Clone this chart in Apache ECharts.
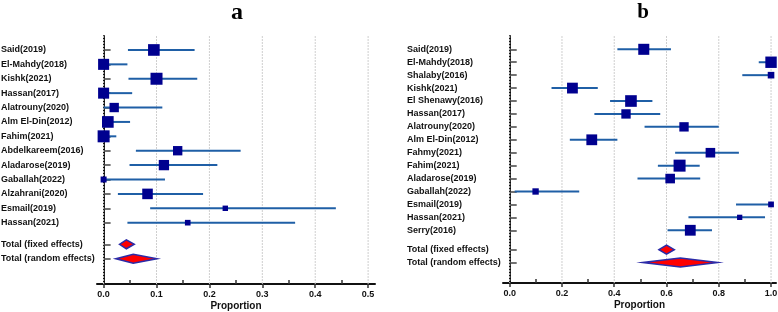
<!DOCTYPE html>
<html>
<head>
<meta charset="utf-8">
<script src="https://cdn.jsdelivr.net/npm/echarts@6/dist/echarts.min.js"></script>
<style>
html, body { margin: 0; padding: 0; background: #fff; }
#chart { width: 778px; height: 312px; }
</style>
</head>
<body>
<div id="chart"></div>
<script>
// panel a
var studiesA = ['Said(2019)', 'El-Mahdy(2018)', 'Kishk(2021)', 'Hassan(2017)', 'Alatrouny(2020)', 'Alm El-Din(2012)',
    'Fahim(2021)', 'Abdelkareem(2016)', 'Aladarose(2019)', 'Gaballah(2022)', 'Alzahrani(2020)', 'Esmail(2019)', 'Hassan(2021)'];
var estA  = [0.095, 0.000, 0.100, 0.000, 0.020, 0.008, 0.000, 0.140, 0.114, 0.000, 0.083, 0.230, 0.159];
var lowA  = [0.046, 0.000, 0.047, 0.000, 0.000, 0.000, 0.000, 0.061, 0.049, 0.000, 0.027, 0.088, 0.045];
var highA = [0.172, 0.045, 0.177, 0.054, 0.111, 0.050, 0.024, 0.259, 0.215, 0.116, 0.188, 0.439, 0.362];
var weightA = [0.97, 0.92, 1.0, 0.92, 0.78, 0.97, 1.0, 0.78, 0.86, 0.5, 0.88, 0.45, 0.47];
var totalNames = ['Total (fixed effects)', 'Total (random effects)'];
var totEstA  = [0.043, 0.056];
var totLowA  = [0.030, 0.023];
var totHighA = [0.058, 0.101];
var ticksA = [0, 0.1, 0.2, 0.3, 0.4, 0.5];
var minorA = [0.05, 0.15, 0.25, 0.35, 0.45];

// panel b
var studiesB = ['Said(2019)', 'El-Mahdy(2018)', 'Shalaby(2016)', 'Kishk(2021)', 'El Shenawy(2016)', 'Hassan(2017)',
    'Alatrouny(2020)', 'Alm El-Din(2012)', 'Fahmy(2021)', 'Fahim(2021)', 'Aladarose(2019)', 'Gaballah(2022)',
    'Esmail(2019)', 'Hassan(2021)', 'Serry(2016)'];
var estB  = [0.513, 1.000, 1.000, 0.240, 0.464, 0.445, 0.667, 0.314, 0.768, 0.650, 0.614, 0.099, 1.000, 0.880, 0.691];
var lowB  = [0.412, 0.953, 0.890, 0.160, 0.384, 0.324, 0.516, 0.230, 0.633, 0.567, 0.489, 0.019, 0.866, 0.684, 0.604];
var highB = [0.617, 1.000, 1.000, 0.337, 0.546, 0.576, 0.800, 0.412, 0.877, 0.727, 0.729, 0.266, 1.000, 0.977, 0.774];
var weightB = [0.92, 0.95, 0.55, 0.9, 0.97, 0.78, 0.78, 0.9, 0.8, 1.0, 0.8, 0.53, 0.48, 0.44, 0.9];
var totEstB  = [0.600, 0.653];
var totLowB  = [0.571, 0.508];
var totHighB = [0.630, 0.796];
var ticksB = [0, 0.2, 0.4, 0.6, 0.8, 1.0];
var minorB = [0.1, 0.3, 0.5, 0.7, 0.9];

var FONT = '"Liberation Sans", Arial, sans-serif';
var SQUARE = 12;

function panel(names, est, low, high, weight, tEst, tLow, tHigh) {
    var pos = [], labels = {}, rows = [], totals = [];
    names.forEach(function (n, i) {
        pos.push(i);
        labels[i] = n;
        rows.push([est[i], i, low[i], high[i], weight[i]]);
    });
    totalNames.forEach(function (n, j) {
        var p = names.length + 0.5 + j;
        pos.push(p);
        labels[p] = n;
        totals.push([tEst[j], p, tLow[j], tHigh[j]]);
    });
    return { pos: pos, labels: labels, rows: rows, totals: totals };
}

var pa = panel(studiesA, estA, lowA, highA, weightA, totEstA, totLowA, totHighA);
var pb = panel(studiesB, estB, lowB, highB, weightB, totEstB, totLowB, totHighB);

var rangeA = { xmin: -0.0125, xmax: 0.513, ymin: -0.97, ymax: 16.26 };
var rangeB = { xmin: -0.0257, xmax: 1.019, ymin: -1.03, ymax: 18.08 };

function yAxisFor(idx, p, r) {
    return {
        gridIndex: idx, type: 'value', inverse: true, min: r.ymin, max: r.ymax,
        axisLine: { show: true, lineStyle: { color: '#111', width: 2 } },
        axisTick: { show: true, inside: true, length: 7, customValues: p.pos, lineStyle: { color: '#444', width: 1.5 } },
        axisLabel: {
            customValues: p.pos, align: 'left', margin: 96,
            formatter: function (v) { return p.labels[v] || ''; },
            fontFamily: FONT, fontWeight: 'bold', fontSize: 9, color: '#111'
        },
        splitLine: { show: false }
    };
}

function xAxesFor(idx, ticks, minor, r) {
    return [{
        gridIndex: idx, type: 'value', position: 'bottom', min: r.xmin, max: r.xmax,
        axisLine: { show: true, onZero: false, lineStyle: { color: '#111', width: 2 } },
        axisTick: { show: true, length: 4, customValues: ticks, lineStyle: { color: '#333', width: 1.5 } },
        axisLabel: {
            customValues: ticks, margin: 6,
            formatter: function (v) { return v.toFixed(1); },
            fontFamily: FONT, fontWeight: 'bold', fontSize: 9, color: '#111'
        },
        splitLine: { show: false },
        name: 'Proportion', nameLocation: 'middle', nameGap: 17, nameMoveOverlap: false,
        nameTextStyle: { fontFamily: FONT, fontWeight: 'bold', fontSize: 10, color: '#111' }
    }, {
        gridIndex: idx, type: 'value', position: 'bottom', min: r.xmin, max: r.xmax,
        axisLine: { show: false, onZero: false },
        axisTick: { show: true, inside: true, length: 4, customValues: minor, lineStyle: { color: '#333', width: 1.5 } },
        axisLabel: { show: false },
        splitLine: { show: false }
    }];
}

function gridSeries(xi, yi, ticks, r) {
    return {
        type: 'custom', xAxisIndex: xi, yAxisIndex: yi, silent: true, z: 1,
        data: ticks.map(function (v) { return [v]; }),
        renderItem: function (params, api) {
            var a = api.coord([api.value(0), r.ymin]);
            var b = api.coord([api.value(0), r.ymax]);
            return {
                type: 'line', shape: { x1: a[0], y1: a[1], x2: b[0], y2: b[1] },
                style: { stroke: '#cfcfcf', lineWidth: 1, lineDash: [2, 1] }
            };
        }
    };
}

function studySeries(xi, yi, rows) {
    return {
        type: 'custom', xAxisIndex: xi, yAxisIndex: yi, clip: false, z: 3,
        data: rows,
        encode: { x: [0, 2, 3], y: 1 },
        renderItem: function (params, api) {
            var c = api.coord([api.value(0), api.value(1)]);
            var l = api.coord([api.value(2), api.value(1)]);
            var h = api.coord([api.value(3), api.value(1)]);
            var s = api.value(4) * SQUARE;
            return {
                type: 'group', children: [{
                    type: 'line', shape: { x1: l[0], y1: l[1], x2: h[0], y2: h[1] },
                    style: { stroke: '#1f5fa6', lineWidth: 2 }
                }, {
                    type: 'rect', shape: { x: c[0] - s / 2, y: c[1] - s / 2, width: s, height: s },
                    style: { fill: '#00008f' }
                }]
            };
        }
    };
}

function totalSeries(xi, yi, totals) {
    return {
        type: 'custom', xAxisIndex: xi, yAxisIndex: yi, clip: false, z: 3,
        data: totals,
        encode: { x: [0, 2, 3], y: 1 },
        renderItem: function (params, api) {
            var c = api.coord([api.value(0), api.value(1)]);
            var l = api.coord([api.value(2), api.value(1)]);
            var h = api.coord([api.value(3), api.value(1)]);
            var dy = 4.5;
            return {
                type: 'polygon',
                shape: { points: [[l[0], l[1]], [c[0], c[1] - dy], [h[0], h[1]], [c[0], c[1] + dy]] },
                style: { fill: '#ff0000', stroke: '#2b2ba8', lineWidth: 1.5 }
            };
        }
    };
}

var chart = echarts.init(document.getElementById('chart'), null, { renderer: 'canvas' });
chart.setOption({
    animation: false,
    backgroundColor: '#fff',
    grid: [
        { left: 97, right: 403, top: 36, bottom: 28, outerBoundsMode: 'none' },
        { left: 503, right: 2, top: 36, bottom: 29, outerBoundsMode: 'none' }
    ],
    xAxis: xAxesFor(0, ticksA, minorA, rangeA).concat(xAxesFor(1, ticksB, minorB, rangeB)),
    yAxis: [yAxisFor(0, pa, rangeA), yAxisFor(1, pb, rangeB)],
    graphic: [
        { type: 'text', x: 237, y: 13, style: { text: 'a', fontFamily: '"Liberation Serif", serif', fontWeight: 'bold', fontSize: 24, fill: '#000', align: 'center', verticalAlign: 'middle' } },
        { type: 'text', x: 643, y: 13, style: { text: 'b', fontFamily: '"Liberation Serif", serif', fontWeight: 'bold', fontSize: 21, fill: '#000', align: 'center', verticalAlign: 'middle' } }
    ],
    series: [
        gridSeries(0, 0, ticksA, rangeA),
        studySeries(0, 0, pa.rows),
        totalSeries(0, 0, pa.totals),
        gridSeries(2, 1, ticksB, rangeB),
        studySeries(2, 1, pb.rows),
        totalSeries(2, 1, pb.totals)
    ]
});
window.addEventListener('resize', function () {
    chart.resize();
});
</script>
</body>
</html>
